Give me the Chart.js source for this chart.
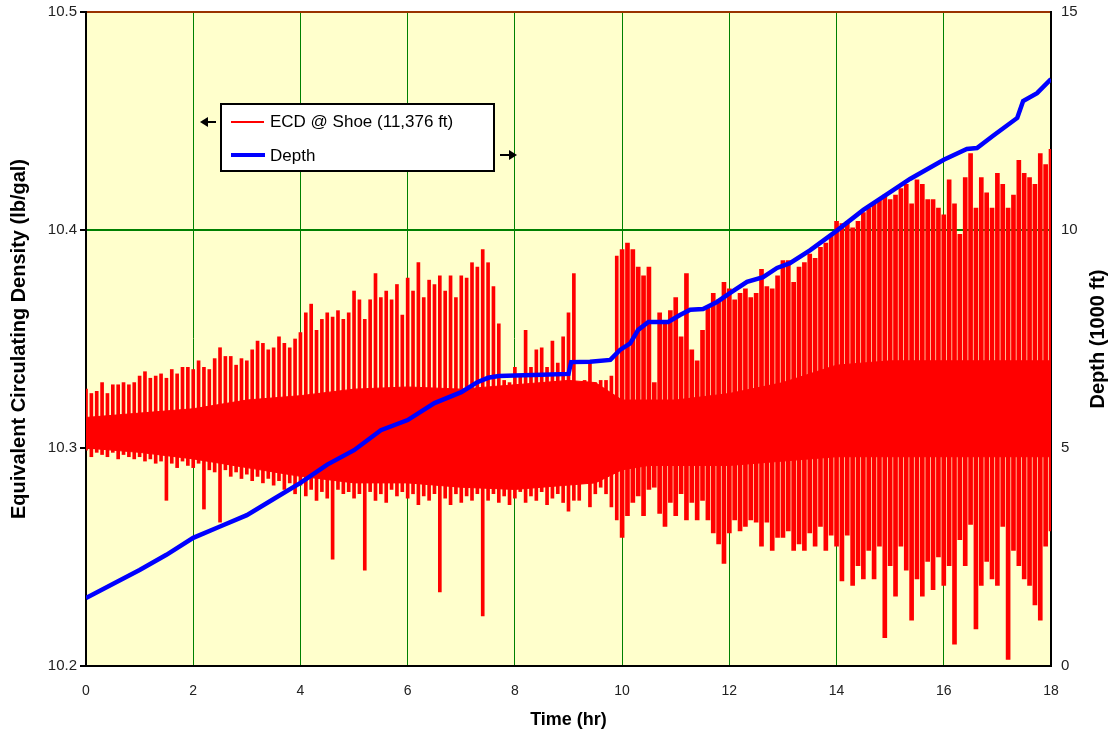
<!DOCTYPE html>
<html>
<head>
<meta charset="utf-8">
<script src="https://cdn.jsdelivr.net/npm/chart.js@4.4.1/dist/chart.umd.min.js"></script>
<style>
  html, body { margin: 0; padding: 0; background: #fff; }
  #wrap { width: 1114px; height: 740px; }
</style>
</head>
<body>
<div id="wrap"><canvas id="ecdChart"></canvas></div>
<script>
// ECD samples, one spike per 0.1 hr bin (0 .. 18 hr): spike top and bottom in lb/gal
const binStep = 0.1;
const ecdHigh = [
  10.327, 10.325, 10.326, 10.330, 10.325, 10.329, 10.329, 10.330, 10.329, 10.330,
  10.333, 10.335, 10.332, 10.333, 10.334, 10.332, 10.336, 10.334, 10.337, 10.337,
  10.336, 10.340, 10.337, 10.336, 10.341, 10.346, 10.342, 10.342, 10.338, 10.341,
  10.340, 10.345, 10.349, 10.348, 10.345, 10.346, 10.351, 10.348, 10.346, 10.350,
  10.353, 10.362, 10.366, 10.354, 10.359, 10.362, 10.360, 10.363, 10.359, 10.362,
  10.372, 10.368, 10.359, 10.368, 10.380, 10.369, 10.372, 10.368, 10.375, 10.361,
  10.378, 10.372, 10.385, 10.369, 10.377, 10.375, 10.379, 10.372, 10.379, 10.369,
  10.379, 10.378, 10.385, 10.383, 10.391, 10.385, 10.374, 10.357, 10.331, 10.330,
  10.337, 10.333, 10.354, 10.337, 10.345, 10.346, 10.337, 10.349, 10.339, 10.351,
  10.362, 10.380, 10.330, 10.331, 10.339, 10.330, 10.331, 10.331, 10.333, 10.388,
  10.391, 10.394, 10.391, 10.383, 10.379, 10.383, 10.330, 10.362, 10.357, 10.363,
  10.369, 10.351, 10.380, 10.345, 10.340, 10.354, 10.365, 10.371, 10.368, 10.376,
  10.373, 10.368, 10.371, 10.373, 10.369, 10.371, 10.382, 10.374, 10.373, 10.379,
  10.386, 10.386, 10.376, 10.383, 10.385, 10.389, 10.387, 10.392, 10.394, 10.398,
  10.404, 10.403, 10.404, 10.401, 10.404, 10.408, 10.410, 10.412, 10.414, 10.416,
  10.414, 10.416, 10.419, 10.421, 10.412, 10.423, 10.421, 10.414, 10.414, 10.410,
  10.407, 10.423, 10.412, 10.398, 10.424, 10.435, 10.410, 10.424, 10.417, 10.410,
  10.426, 10.421, 10.410, 10.416, 10.432, 10.426, 10.424, 10.421, 10.435, 10.430,
  10.437
];
const ecdLow = [
  10.299, 10.296, 10.298, 10.297, 10.296, 10.298, 10.295, 10.297, 10.296, 10.295,
  10.296, 10.294, 10.295, 10.293, 10.294, 10.276, 10.293, 10.291, 10.294, 10.292,
  10.291, 10.293, 10.272, 10.290, 10.289, 10.266, 10.290, 10.287, 10.289, 10.286,
  10.288, 10.285, 10.287, 10.284, 10.286, 10.283, 10.285, 10.281, 10.284, 10.279,
  10.283, 10.278, 10.281, 10.276, 10.280, 10.277, 10.249, 10.281, 10.279, 10.280,
  10.277, 10.279, 10.244, 10.280, 10.276, 10.279, 10.275, 10.281, 10.278, 10.280,
  10.277, 10.279, 10.274, 10.278, 10.276, 10.279, 10.234, 10.277, 10.274, 10.279,
  10.275, 10.278, 10.276, 10.279, 10.223, 10.276, 10.279, 10.275, 10.278, 10.274,
  10.277, 10.280, 10.275, 10.278, 10.276, 10.280, 10.274, 10.277, 10.279, 10.275,
  10.271, 10.276, 10.276, 10.284, 10.273, 10.279, 10.282, 10.279, 10.273, 10.267,
  10.259, 10.269, 10.275, 10.278, 10.269, 10.281, 10.282, 10.270, 10.264, 10.275,
  10.269, 10.279, 10.267, 10.275, 10.267, 10.276, 10.267, 10.261, 10.256, 10.247,
  10.261, 10.267, 10.262, 10.264, 10.267, 10.266, 10.255, 10.266, 10.253, 10.259,
  10.259, 10.262, 10.253, 10.256, 10.253, 10.261, 10.255, 10.264, 10.253, 10.260,
  10.255, 10.239, 10.260, 10.237, 10.246, 10.240, 10.253, 10.240, 10.255, 10.213,
  10.246, 10.232, 10.255, 10.244, 10.221, 10.240, 10.232, 10.248, 10.235, 10.250,
  10.237, 10.246, 10.210, 10.258, 10.246, 10.265, 10.217, 10.237, 10.248, 10.240,
  10.237, 10.264, 10.203, 10.253, 10.246, 10.240, 10.237, 10.228, 10.221, 10.255,
  10.262
];

// dense (solid) part of the ECD trace
const coreTime = [0, 1, 2, 3, 4, 5, 6, 7, 8, 9, 9.5, 10, 10.5, 11, 12, 13, 14, 15, 16, 17, 18];
const coreHigh = [10.314, 10.316, 10.318, 10.322, 10.324, 10.327, 10.328, 10.327, 10.329, 10.331, 10.330,
                  10.322, 10.322, 10.322, 10.325, 10.330, 10.338, 10.340, 10.340, 10.340, 10.340];
const coreLow  = [10.300, 10.298, 10.295, 10.291, 10.287, 10.284, 10.284, 10.282, 10.281, 10.283, 10.284,
                  10.290, 10.292, 10.292, 10.292, 10.294, 10.296, 10.296, 10.296, 10.296, 10.296];

// bit depth (1000 ft)
const depthTime = [0, 0.5, 1, 1.5, 2, 2.5, 3, 3.5, 4, 4.5, 5, 5.5, 6, 6.5, 7, 7.3, 7.5, 7.7, 8, 8.5, 9,
                   9.05, 9.4, 9.78, 9.96, 10.15, 10.3, 10.49, 10.86, 11.08, 11.27, 11.51, 11.77, 12.01,
                   12.33, 12.63, 12.89, 13.13, 13.51, 14, 14.5, 15, 15.37, 16, 16.43, 16.62, 16.92,
                   17.37, 17.48, 17.74, 18];
const depth = [1.56, 1.88, 2.20, 2.55, 2.94, 3.20, 3.46, 3.83, 4.20, 4.62, 4.95, 5.41, 5.64, 6.03, 6.28,
               6.51, 6.61, 6.65, 6.66, 6.68, 6.70, 6.97, 6.98, 7.02, 7.25, 7.40, 7.71, 7.89, 7.89, 8.05,
               8.17, 8.19, 8.35, 8.55, 8.81, 8.92, 9.13, 9.24, 9.54, 9.98, 10.46, 10.87, 11.17, 11.61,
               11.86, 11.88, 12.16, 12.57, 12.96, 13.14, 13.46];

const xTicks = [0, 2, 4, 6, 8, 10, 12, 14, 16, 18];
const ecdLabel = "ECD @ Shoe (11,376 ft)";
const depthLabel = "Depth";

const FONT = "'Liberation Sans', Arial, sans-serif";
Chart.defaults.font.family = FONT;
Chart.defaults.color = "#222";

const ecdPoints = ecdHigh.map((hi, i) => ({ x: +(i * binStep).toFixed(1), y: [ecdLow[i], hi] }));
const splitAt = 100; // spikes get wider and denser after 10 hr

function spikeSet(points, thickness) {
  return {
    type: "bar",
    label: ecdLabel,
    yAxisID: "y",
    data: points,
    backgroundColor: "#FF0000",
    borderWidth: 0,
    barThickness: thickness,
    grouped: false,
    order: 2
  };
}

// vertical axes: fixed width, no extra padding for the end labels
function fixWidth(w) {
  return (s) => {
    s.width = w;
    s.paddingTop = 0;
    s.paddingBottom = 0;
  };
}

// plot background, legend box with arrows, right axis title
const decor = {
  id: "decor",
  beforeDraw(chart) {
    const { ctx, chartArea: a } = chart;
    ctx.save();
    ctx.fillStyle = "#FFFFCC";
    ctx.fillRect(a.left, a.top, a.right - a.left, a.bottom - a.top);
    ctx.restore();
  },
  afterDraw(chart) {
    const { ctx, chartArea: a } = chart;
    ctx.save();
    // legend
    const bx = 221, by = 104, bw = 273, bh = 67;
    ctx.fillStyle = "#fff";
    ctx.fillRect(bx, by, bw, bh);
    ctx.strokeStyle = "#000";
    ctx.lineWidth = 2;
    ctx.strokeRect(bx, by, bw, bh);
    ctx.lineCap = "butt";
    ctx.strokeStyle = "#FF0000";
    ctx.lineWidth = 2;
    ctx.beginPath(); ctx.moveTo(231, 122); ctx.lineTo(264, 122); ctx.stroke();
    ctx.strokeStyle = "#0000FF";
    ctx.lineWidth = 4;
    ctx.beginPath(); ctx.moveTo(231, 155); ctx.lineTo(265, 155); ctx.stroke();
    ctx.fillStyle = "#000";
    ctx.font = "17px " + FONT;
    ctx.textBaseline = "middle";
    ctx.textAlign = "left";
    ctx.fillText(ecdLabel, 270, 122);
    ctx.fillText(depthLabel, 270, 156);
    // axis arrows
    ctx.lineWidth = 2;
    ctx.strokeStyle = "#000";
    ctx.beginPath(); ctx.moveTo(205, 122); ctx.lineTo(216, 122); ctx.stroke();
    ctx.beginPath(); ctx.moveTo(200, 122); ctx.lineTo(208, 117); ctx.lineTo(208, 127); ctx.closePath(); ctx.fill();
    ctx.beginPath(); ctx.moveTo(500, 155); ctx.lineTo(511, 155); ctx.stroke();
    ctx.beginPath(); ctx.moveTo(517, 155); ctx.lineTo(509, 150); ctx.lineTo(509, 160); ctx.closePath(); ctx.fill();
    // right axis title, reading bottom to top
    ctx.translate(1098, (a.top + a.bottom) / 2);
    ctx.rotate(-Math.PI / 2);
    ctx.textAlign = "center";
    ctx.font = "bold 20px " + FONT;
    ctx.fillText("Depth (1000 ft)", 0, 0);
    ctx.restore();
  }
};

new Chart(document.getElementById("ecdChart"), {
  type: "line",
  data: {
    datasets: [
      {
        label: depthLabel,
        yAxisID: "y2",
        data: depthTime.map((t, i) => ({ x: t, y: depth[i] })),
        borderColor: "#0000FF",
        backgroundColor: "#0000FF",
        borderWidth: 4.5,
        pointRadius: 0,
        tension: 0,
        order: 0
      },
      spikeSet(ecdPoints.slice(0, splitAt), 3),
      spikeSet(ecdPoints.slice(splitAt), 4),
      {
        label: "core-high",
        yAxisID: "y",
        data: coreTime.map((t, i) => ({ x: t, y: coreHigh[i] })),
        borderColor: "#FF0000",
        backgroundColor: "#FF0000",
        borderWidth: 1,
        pointRadius: 0,
        fill: "+1",
        order: 3
      },
      {
        label: "core-low",
        yAxisID: "y",
        data: coreTime.map((t, i) => ({ x: t, y: coreLow[i] })),
        borderColor: "#FF0000",
        borderWidth: 1,
        pointRadius: 0,
        fill: false,
        order: 3
      }
    ]
  },
  options: {
    responsive: true,
    maintainAspectRatio: false,
    animation: false,
    layout: { padding: { top: 12, left: 0, right: 0, bottom: 0 } },
    plugins: {
      legend: { display: false },
      tooltip: { enabled: false }
    },
    scales: {
      x: {
        type: "linear",
        min: 0,
        max: 18,
        offset: false,
        afterBuildTicks: (s) => { s.ticks = xTicks.map(v => ({ value: v })); },
        afterFit: (s) => { s.height = 74; s.paddingLeft = 0; s.paddingRight = 0; },
        ticks: { font: { size: 14 }, color: "#222", padding: 17, maxRotation: 0 },
        grid: { color: "#008000", lineWidth: 1, drawTicks: false, offset: false },
        border: { color: "#000", width: 2 },
        title: { display: true, text: "Time (hr)", font: { size: 18, weight: "bold" }, color: "#000",
                 padding: { top: 0, bottom: 9 } }
      },
      y: {
        position: "left",
        min: 10.2,
        max: 10.5,
        afterFit: fixWidth(86),
        ticks: { stepSize: 0.1, font: { size: 15 }, color: "#222", padding: 3,
                 callback: (v) => v.toFixed(1) },
        grid: {
          color: (c) => Math.abs(c.tick.value - 10.5) < 1e-6 ? "#993300" : "#008000",
          lineWidth: 2,
          tickLength: 6,
          tickColor: "#000"
        },
        border: { color: "#000", width: 2 },
        title: { display: true, text: "Equivalent Circulating Density (lb/gal)",
                 font: { size: 20, weight: "bold" }, color: "#000", padding: { top: 7, bottom: 0 } }
      },
      y2: {
        position: "right",
        min: 0,
        max: 15,
        afterFit: fixWidth(63),
        ticks: { stepSize: 5, font: { size: 15 }, color: "#222", padding: 10 },
        grid: { drawOnChartArea: false, drawTicks: false },
        border: { color: "#000", width: 2 }
      }
    }
  },
  plugins: [decor]
});
</script>
</body>
</html>
